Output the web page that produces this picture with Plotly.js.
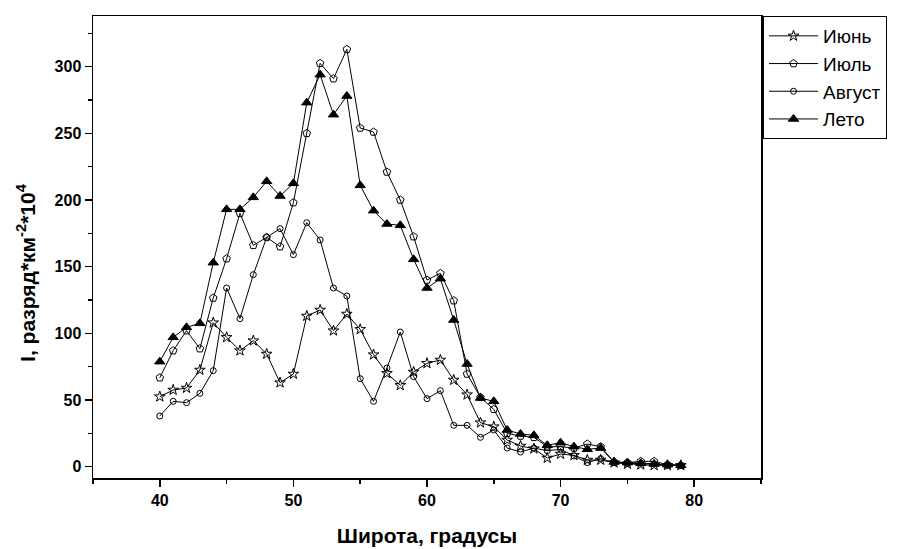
<!DOCTYPE html>
<html>
<head>
<meta charset="utf-8">
<script src="https://cdn.plot.ly/plotly-3.0.1.min.js"></script>
<style>html,body{margin:0;padding:0;background:#fff;}#chart{width:900px;height:549px;}</style>
</head>
<body>
<div id="chart"></div>
<script>
const latitude = [40,41,42,43,44,45,46,47,48,49,50,51,52,53,54,55,56,57,58,59,60,61,62,63,64,65,66,67,68,69,70,71,72,73,74,75,76,77,78,79];
const june   = [52.5,57.5,59,72.5,108,97,87,94.5,84.5,63,69.5,113,117.5,102,114.5,103,84,70,61,71,77.5,80,65,54,33,30,20,15.5,13.5,6.5,9.5,8.5,5,5,3,2,1.5,1,1,1];
const july   = [66.7,87,102,88.5,126.5,156,190,166,172,165,198,250,302.5,291,313,254,251,221,200,172.5,140,145,124.5,69.5,52,43,25,23,22,15,15,14,17,15,3.5,3,4,4,1.5,1];
const august = [38,49,48,55,72,134,111,144,172,178.5,159,183,170,134,128,66,49,74,101,67.5,51,57,31,31,22,27.5,14,11,14,12,13,8,3,6,3,2.5,2.5,2,1,1];
const summer = [78.75,97,104.5,107.5,153,193,193,202,214,203,212.5,273,294,264,278,211,192,182,181,155.5,134,141,110,77,51.5,49,27.5,24.5,23.5,16,18,15,13,14,3.5,3,2.5,2,1.5,1];
const seriesNames = ['Июнь','Июль','Август','Лето'];
const xTicks = [40,50,60,70,80];
const yTicks = [0,50,100,150,200,250,300];
const xTitle = 'Широта, градусы';
const yTitle = 'I, разряд*км<sup>-2</sup>*10<sup>4</sup>';

const symbols = ['star-open','pentagon-open','circle-open','triangle-up'];
const sizes = [8,8,6,9];
const ys = [june, july, august, summer];
const traces = ys.map((y,i)=>({
  x: latitude, y: y, name: seriesNames[i], type:'scatter', mode:'lines+markers',
  line:{color:'#000', width:1},
  marker:{symbol:symbols[i], size:sizes[i], color:'#000', line:{color:'#000', width:1}}
}));

const fam = 'Liberation Sans, Arial, sans-serif';
const axisFont = {family:fam, size:16, color:'#000', weight:'bold'};
const layout = {
  width:900, height:549,
  margin:{l:93, r:139, t:16, b:71},
  paper_bgcolor:'#fff', plot_bgcolor:'#fff',
  showlegend:true,
  legend:{x:1.003, xanchor:'left', y:1.0, yanchor:'top', bordercolor:'#000', borderwidth:1,
          font:{family:fam, size:19, color:'#000'}, bgcolor:'#fff',
          itemwidth:49, tracegroupgap:0},
  xaxis:{range:[35,85], tickvals:xTicks, ticks:'outside', ticklen:7, tickwidth:1.5, tickcolor:'#000',
         minor:{dtick:5, tick0:35, ticks:'outside', ticklen:4, tickwidth:1.5, tickcolor:'#000'},
         showline:true, mirror:true, linecolor:'#000', linewidth:1.5, showgrid:false, zeroline:false,
         tickfont:axisFont,
         title:{text:xTitle, font:{family:fam, size:21, color:'#000', weight:'bold'}, standoff:20}},
  yaxis:{range:[-8.5,338], tickvals:yTicks, ticks:'outside', ticklen:7, tickwidth:1.5, tickcolor:'#000',
         minor:{dtick:25, tick0:0, ticks:'outside', ticklen:4, tickwidth:1.5, tickcolor:'#000'},
         showline:true, mirror:true, linecolor:'#000', linewidth:1.5, showgrid:false, zeroline:false,
         tickfont:axisFont},
  annotations:[{text:yTitle, xref:'paper', yref:'paper', x:-0.1003, y:0.446, xanchor:'center', yanchor:'middle',
                textangle:-90, showarrow:false, font:{family:fam, size:21, color:'#000', weight:'bold'}}]
};
Plotly.newPlot('chart', traces, layout, {displayModeBar:false, staticPlot:true});
</script>
</body>
</html>
